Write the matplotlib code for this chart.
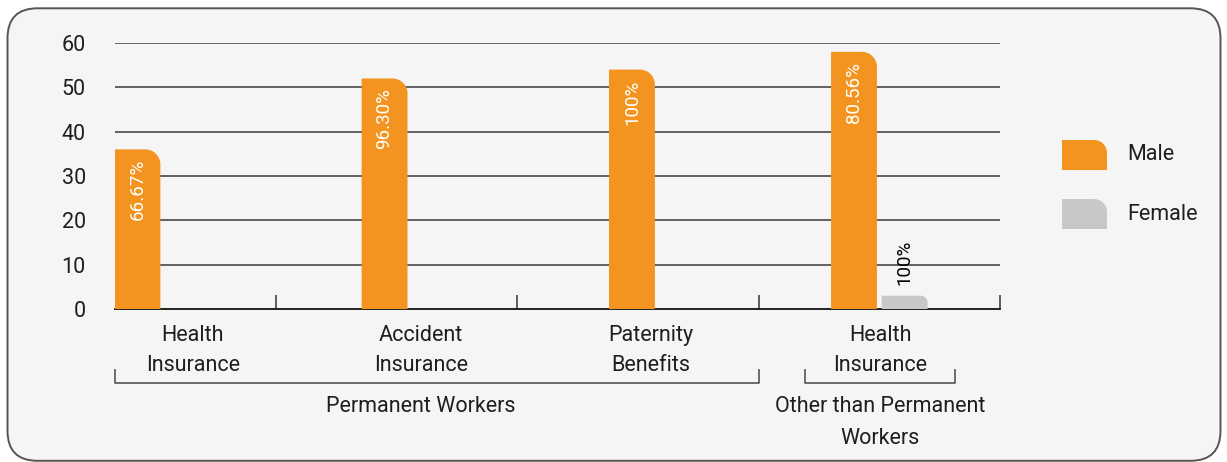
import numpy as np
import matplotlib
matplotlib.use("Agg")
import matplotlib.pyplot as plt
from matplotlib.path import Path
from matplotlib.patches import PathPatch, FancyBboxPatch
import matplotlib.transforms as mtransforms

plt.rcParams['font.family'] = ['Roboto', 'DejaVu Sans']

# data
categories = ["Health\nInsurance", "Accident\nInsurance", "Paternity\nBenefits", "Health\nInsurance"]
groups = ["Permanent Workers", "Other than Permanent\nWorkers"]
male = [36, 52, 54, 58]
female = [0, 0, 0, 3]
male_labels = ["66.67%", "96.30%", "100%", "80.56%"]
female_labels = ["", "", "", "100%"]
yticks = [0, 10, 20, 30, 40, 50, 60]

ORANGE = "#F39320"
GREY = "#C8C8C8"
BG = "#F5F5F5"
TXT = "#1e1e1e"
FS = 15.5

# layout (category slots are 1 unit wide, boundaries at 0.5, 1.5, 2.5, 3.5)
male_x = [-0.074, 0.950, 1.975, 2.895]
female_x = [0.105 + i for i in range(4)]
bar_w = 0.19
label_x = [0.156, 1.101, 2.054, 3.003]


def rounded_top_right(x0, y0, x1, y1, rx, ry):
    k = 0.5523
    verts = [(x0, y0), (x0, y1), (x1 - rx, y1),
             (x1 - rx + k * rx, y1), (x1, y1 - ry + k * ry), (x1, y1 - ry),
             (x1, y0), (x0, y0)]
    codes = [Path.MOVETO, Path.LINETO, Path.LINETO,
             Path.CURVE4, Path.CURVE4, Path.CURVE4,
             Path.LINETO, Path.CLOSEPOLY]
    return Path(verts, codes)


fig = plt.figure(figsize=(12.27, 4.62), dpi=100)
fig.patch.set_facecolor("white")

# rounded frame
frame = FancyBboxPatch((0.075, 0.012), 12.13, 4.525,
                       boxstyle="round,pad=0,rounding_size=0.3",
                       transform=fig.dpi_scale_trans, facecolor=BG,
                       edgecolor="#555555", linewidth=1.4, zorder=0)
fig.add_artist(frame)

ax = fig.add_axes([115 / 1227, 1 - 309 / 462, 885 / 1227, 266 / 462])
ax.set_facecolor("none")
ax.set_xlim(-0.167, 3.5)
ax.set_ylim(0, 60)

px_x = 241.3   # pixels per x unit
px_y = 4.433   # pixels per y unit

bars_m = ax.bar(male_x, male, width=bar_w, color=ORANGE)
bars_f = ax.bar(female_x, female, width=bar_w, color=GREY)

for rect in list(bars_m) + list(bars_f):
    h = rect.get_height()
    rect.set_visible(False)
    if h <= 0:
        continue
    x0 = rect.get_x()
    x1 = x0 + rect.get_width()
    r = min(15, h * px_y * 0.5)
    p = rounded_top_right(x0, 0, x1, h, r / px_x, r / px_y)
    ax.add_patch(PathPatch(p, facecolor=rect.get_facecolor(), edgecolor="none", zorder=3))

for x, v, t in zip(male_x, male, male_labels):
    ax.annotate(t, (x, v), xytext=(0, -7), textcoords="offset points",
                rotation=90, ha="center", va="top", color="white",
                fontsize=13.5, zorder=4)
for x, v, t in zip(female_x, female, female_labels):
    if t:
        ax.annotate(t, (x, v), xytext=(0, 8), textcoords="offset points",
                    rotation=90, ha="center", va="bottom", color="black",
                    fontsize=13.5, zorder=4)

# grid and axes
ax.set_yticks(yticks)
ax.set_yticklabels([str(v) for v in yticks], fontsize=FS, color=TXT)
ax.tick_params(axis="y", length=0, pad=21)
for v in yticks[1:]:
    ax.axhline(v, color="#3a3a3a", linewidth=1.1, zorder=1)
for s in ["top", "right", "left"]:
    ax.spines[s].set_visible(False)
ax.spines["bottom"].set_color("#111111")
ax.spines["bottom"].set_linewidth(1.3)
ax.set_xticks([0.5, 1.5, 2.5, 3.5])
ax.set_xticklabels([])
ax.tick_params(axis="x", direction="in", length=10, width=1.1, color="#333333")

# category labels and brackets
tr = mtransforms.blended_transform_factory(ax.transData, ax.transAxes)
for x, c in zip(label_x, categories):
    l1, l2 = c.split("\n")
    ax.text(x, -0.098, l1, transform=tr, ha="center", va="center", fontsize=FS, color=TXT)
    ax.text(x, -0.214, l2, transform=tr, ha="center", va="center", fontsize=FS, color=TXT)

yb_top, yb_bot = -0.229, -0.278
for xa, xb in [(-0.167, 2.5), (2.692, 3.314)]:
    ax.plot([xa, xa, xb, xb], [yb_top, yb_bot, yb_bot, yb_top], transform=tr,
            color="#555555", linewidth=1.2, clip_on=False)

ax.text(1.101, -0.368, groups[0], transform=tr, ha="center", va="center", fontsize=FS, color=TXT)
g1, g2 = groups[1].split("\n")
ax.text(3.003, -0.368, g1, transform=tr, ha="center", va="center", fontsize=FS, color=TXT)
ax.text(3.003, -0.485, g2, transform=tr, ha="center", va="center", fontsize=FS, color=TXT)

# legend
for (y0, col, name) in [(140, ORANGE, "Male"), (199, GREY, "Female")]:
    xa, xb = 1062 / 100, 1107 / 100
    ya, yb = (462 - y0 - 30) / 100, (462 - y0) / 100
    p = rounded_top_right(xa, ya, xb, yb, 0.13, 0.13)
    fig.add_artist(PathPatch(p, facecolor=col, edgecolor="none", transform=fig.dpi_scale_trans))
    fig.text(1127 / 1227, 1 - (y0 + 15) / 462, name, ha="left", va="center", fontsize=FS, color=TXT)

fig.savefig("out.png", dpi=100, facecolor="white")
